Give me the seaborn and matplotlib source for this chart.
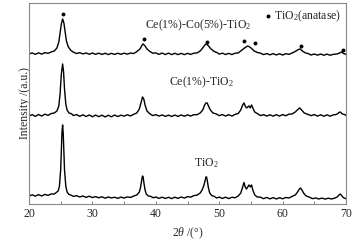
import matplotlib
matplotlib.use('Agg')
import matplotlib.pyplot as plt
import seaborn as sns
import pandas as pd
from matplotlib.ticker import MultipleLocator

# XRD patterns (2theta in degrees, intensity in arbitrary units incl. offset)
tio2_x = [20, 20.5, 21, 21.5, 22, 22.5, 23, 23.5, 24, 24.3, 24.6, 24.8, 25.0, 25.1, 25.2, 25.3, 25.4, 25.5,
          25.6, 25.8, 26.0, 26.3, 26.6, 27, 27.5, 28, 28.5, 29, 29.5, 30, 30.5, 31, 31.5, 32, 32.5, 33,
          33.5, 34, 34.5, 35, 35.5, 36, 36.5, 37, 37.4, 37.6, 37.8, 37.9, 38.0, 38.1, 38.3, 38.5, 38.8,
          39.2, 39.6, 40, 40.5, 41, 41.5, 42, 42.5, 43, 43.5, 44, 44.5, 45, 45.5, 46, 46.5, 47, 47.3,
          47.6, 47.8, 47.9, 48.0, 48.1, 48.3, 48.5, 48.8, 49.2, 49.6, 50, 50.5, 51, 51.5, 52, 52.5, 53,
          53.4, 53.7, 53.9, 54.1, 54.3, 54.5, 54.7, 54.9, 55.1, 55.3, 55.6, 56, 56.5, 57, 57.5, 58, 58.5,
          59, 59.5, 60, 60.5, 61, 61.5, 62, 62.3, 62.6, 62.8, 63.0, 63.3, 63.7, 64.2, 64.7, 65.2, 65.7,
          66.2, 66.7, 67.2, 67.7, 68.2, 68.6, 68.9, 69.1, 69.3, 69.6, 70]
tio2_y = [8, 9.2, 7.8, 9.4, 8.0, 9.6, 8.6, 10.0, 10, 11.5, 13, 18, 35, 55, 72, 79, 70, 52,
          34, 18, 12, 9.5, 8.9, 7.6, 8.3, 7.0, 8.0, 6.6, 7.8, 6.4, 7.4, 6.2, 7.2, 5.8, 7.0, 6.0,
          6.8, 5.6, 6.9, 5.9, 7.1, 6.5, 7.9, 9.0, 12, 17, 25, 28, 27, 22, 14, 10, 8,
          7.6, 6.2, 7.0, 5.6, 6.8, 5.5, 6.7, 5.4, 6.8, 5.6, 7.0, 5.9, 7.4, 6.8, 8.4, 8.8, 11, 14,
          19, 24, 27, 27, 24, 16, 11, 8.5, 7.6, 6.0, 6.9, 5.5, 6.8, 5.4, 6.7, 6.2, 8.0,
          11, 17, 21.5, 17, 15, 17, 19, 17, 19, 14, 9, 7, 6.8, 5.3, 6.6, 5.1, 6.4,
          5.0, 6.3, 5.2, 6.5, 6.0, 7.6, 9.0, 11.5, 14.5, 16, 14.5, 11, 8, 6.9, 5.3, 6.0, 5.0,
          5.9, 4.9, 5.8, 5.0, 5.8, 7.0, 9.0, 10, 8.5, 6.2, 5.3]

ce_x = [20, 20.5, 21, 21.5, 22, 22.5, 23, 23.5, 24, 24.4, 24.7, 24.9, 25.1, 25.3, 25.45, 25.6, 25.8, 26.0,
        26.3, 26.7, 27, 27.5, 28, 28.5, 29, 29.5, 30, 30.5, 31, 31.5, 32, 32.5, 33, 33.5, 34, 34.5, 35,
        35.5, 36, 36.5, 37, 37.4, 37.7, 37.9, 38.1, 38.3, 38.6, 39, 39.5, 40, 40.5, 41, 41.5, 42, 42.5,
        43, 43.5, 44, 44.5, 45, 45.5, 46, 46.5, 47, 47.4, 47.7, 47.9, 48.1, 48.3, 48.6, 49, 49.5, 50,
        50.5, 51, 51.5, 52, 52.5, 53, 53.4, 53.7, 53.9, 54.1, 54.3, 54.5, 54.7, 54.9, 55.1, 55.3, 55.6,
        56, 56.5, 57, 57.5, 58, 58.5, 59, 59.5, 60, 60.5, 61, 61.5, 62, 62.4, 62.7, 63, 63.4, 63.8,
        64.5, 65, 65.5, 66, 66.5, 67, 67.5, 68, 68.5, 68.9, 69.1, 69.4, 69.8, 70]
ce_y = [88, 89.3, 87.6, 89.5, 87.9, 89.8, 88.6, 90.4, 91, 93, 98, 110, 130, 140, 132, 115, 100, 94,
        91, 90.2, 88.4, 89.4, 87.6, 89.2, 87.4, 89.0, 87.2, 88.9, 87.3, 88.8, 87.0, 88.7, 87.2, 88.9, 87.4, 88.8, 87.8,
        89.2, 88.0, 89.6, 91, 95, 102, 107, 105, 99, 93, 90.5, 88.4, 89.3, 87.9, 89.0, 87.6, 88.8, 87.5,
        88.9, 87.6, 89.0, 87.7, 89.1, 87.9, 89.3, 89.2, 91, 94, 99, 101, 101, 98, 94, 91, 90.1, 88.3,
        89.4, 87.9, 89.3, 87.9, 89.6, 90.5, 94, 99, 101, 98, 96, 97, 98, 96, 99, 96, 92,
        90.4, 88.4, 89.3, 87.9, 89.2, 87.8, 89.3, 87.9, 89.4, 88.2, 89.8, 90, 92, 94.5, 96, 94, 91, 90,
        88.3, 89.4, 87.8, 89.2, 87.7, 89.1, 87.8, 89.1, 89.5, 91.5, 92, 90, 89.4, 88.6]

ceco_x = [20, 20.5, 21, 21.5, 22, 22.5, 23, 23.5, 24, 24.4, 24.7, 24.9, 25.1, 25.3, 25.5, 25.7, 25.9,
          26.2, 26.6, 27, 27.5, 28, 28.5, 29, 29.5, 30, 30.5, 31, 31.5, 32, 32.5, 33, 33.5, 34, 34.5,
          35, 35.5, 36, 36.5, 37, 37.5, 37.8, 38.0, 38.3, 38.6, 39, 39.5, 40, 40.5, 41, 41.5, 42, 42.5,
          43, 43.5, 44, 44.5, 45, 45.5, 46, 46.5, 47, 47.4, 47.8, 48.0, 48.3, 48.7, 49.2, 49.7, 50,
          50.5, 51, 51.5, 52, 52.5, 53, 53.5, 54, 54.5, 54.8, 55.1, 55.5, 56, 56.5, 57, 57.5, 58, 58.5,
          59, 59.5, 60, 60.5, 61, 61.5, 62, 62.5, 62.8, 63.1, 63.6, 64, 64.5, 65, 65.5, 66, 66.5, 67,
          67.5, 68, 68.6, 69, 69.3, 69.6, 70]
ceco_y = [150, 151.0, 149.6, 151.1, 149.8, 151.3, 150.6, 152.0, 153, 156, 162, 171, 180, 185, 181, 172, 163,
          157, 153.5, 151.8, 150.4, 151.3, 150.0, 151.0, 149.7, 150.9, 149.6, 150.8, 149.5, 150.7, 149.4, 150.6, 149.5, 150.7, 149.6,
          150.8, 149.8, 150.9, 150.4, 152.3, 155, 158.5, 160, 158, 155, 152.8, 150.8, 151.0, 149.6, 150.9, 149.4, 150.8, 149.3,
          150.7, 149.3, 150.6, 149.3, 150.6, 149.5, 150.8, 151, 153, 156, 159.5, 160, 158, 155, 152.5, 151.2, 149.8,
          150.8, 149.4, 150.6, 149.4, 150.7, 151, 153.5, 156, 158, 157, 155.5, 153, 151.5, 150.8, 149.3, 150.4, 149.1, 150.3,
          149.0, 150.2, 148.9, 150.2, 149.6, 151, 152.5, 154.5, 155, 153, 151, 150.4, 148.9, 150.0, 148.8, 149.9, 148.7, 149.8,
          148.7, 149.6, 150, 151, 152, 150.5, 149.5]

# anatase reflection markers
dot_x = [25.3, 38.1, 48.0, 53.9, 55.6, 62.9, 69.5]
dot_y = [190, 165, 162, 163, 161, 158, 154]

series_names = ['TiO$_2$', 'Ce(1%)-TiO$_2$', 'Ce(1%)-Co(5%)-TiO$_2$']

frames = []
for name, xs, ys in zip(series_names, [tio2_x, ce_x, ceco_x], [tio2_y, ce_y, ceco_y]):
    frames.append(pd.DataFrame({'theta': xs, 'intensity': ys, 'sample': name}))
df = pd.concat(frames, ignore_index=True)

sns.set_style("white")
plt.rcParams['font.family'] = ['Liberation Serif', 'DejaVu Serif']
plt.rcParams['mathtext.fontset'] = 'custom'
plt.rcParams['mathtext.rm'] = 'Liberation Serif'
plt.rcParams['mathtext.it'] = 'Liberation Serif:italic'

fig = plt.figure(figsize=(3.56, 2.44), dpi=100)
ax = fig.add_axes([0.0815, 0.164, 0.8905, 0.824])

sns.lineplot(data=df, x='theta', y='intensity', units='sample', estimator=None, sort=False,
             color='black', linewidth=1.0, ax=ax, legend=False)
sns.scatterplot(x=dot_x, y=dot_y, color='black', s=8, linewidth=0, ax=ax,
                label='TiO$_2$(anatase)')

ax.text(46.0, 41, series_names[0], fontsize=8.5, va='center')
ax.text(42.1, 122, series_names[1], fontsize=8.5, va='center')
ax.text(38.3, 179, series_names[2], fontsize=8.5, va='center')

ax.legend(loc='upper right', frameon=False, fontsize=8.5, handletextpad=0.1,
          handlelength=0.8, borderaxespad=0.15, borderpad=0.3, markerscale=1.0)

ax.set_xlim(20, 70)
ax.set_ylim(0, 201)
ax.xaxis.set_major_locator(MultipleLocator(10))
ax.xaxis.set_minor_locator(MultipleLocator(5))
ax.set_yticks([])
ax.tick_params(axis='x', which='both', direction='in', length=2.5, width=0.6,
               color='#777777', labelsize=8.5, pad=3, bottom=True)
for s in ax.spines.values():
    s.set_color('#888888')
    s.set_linewidth(0.8)

ax.set_xlabel(r'2$\theta$ /(°)', fontsize=8.5, labelpad=4)
ax.set_ylabel('Intensity /(a.u.)', fontsize=8.5, labelpad=-1.5)

fig.savefig('out.png', dpi=100)
